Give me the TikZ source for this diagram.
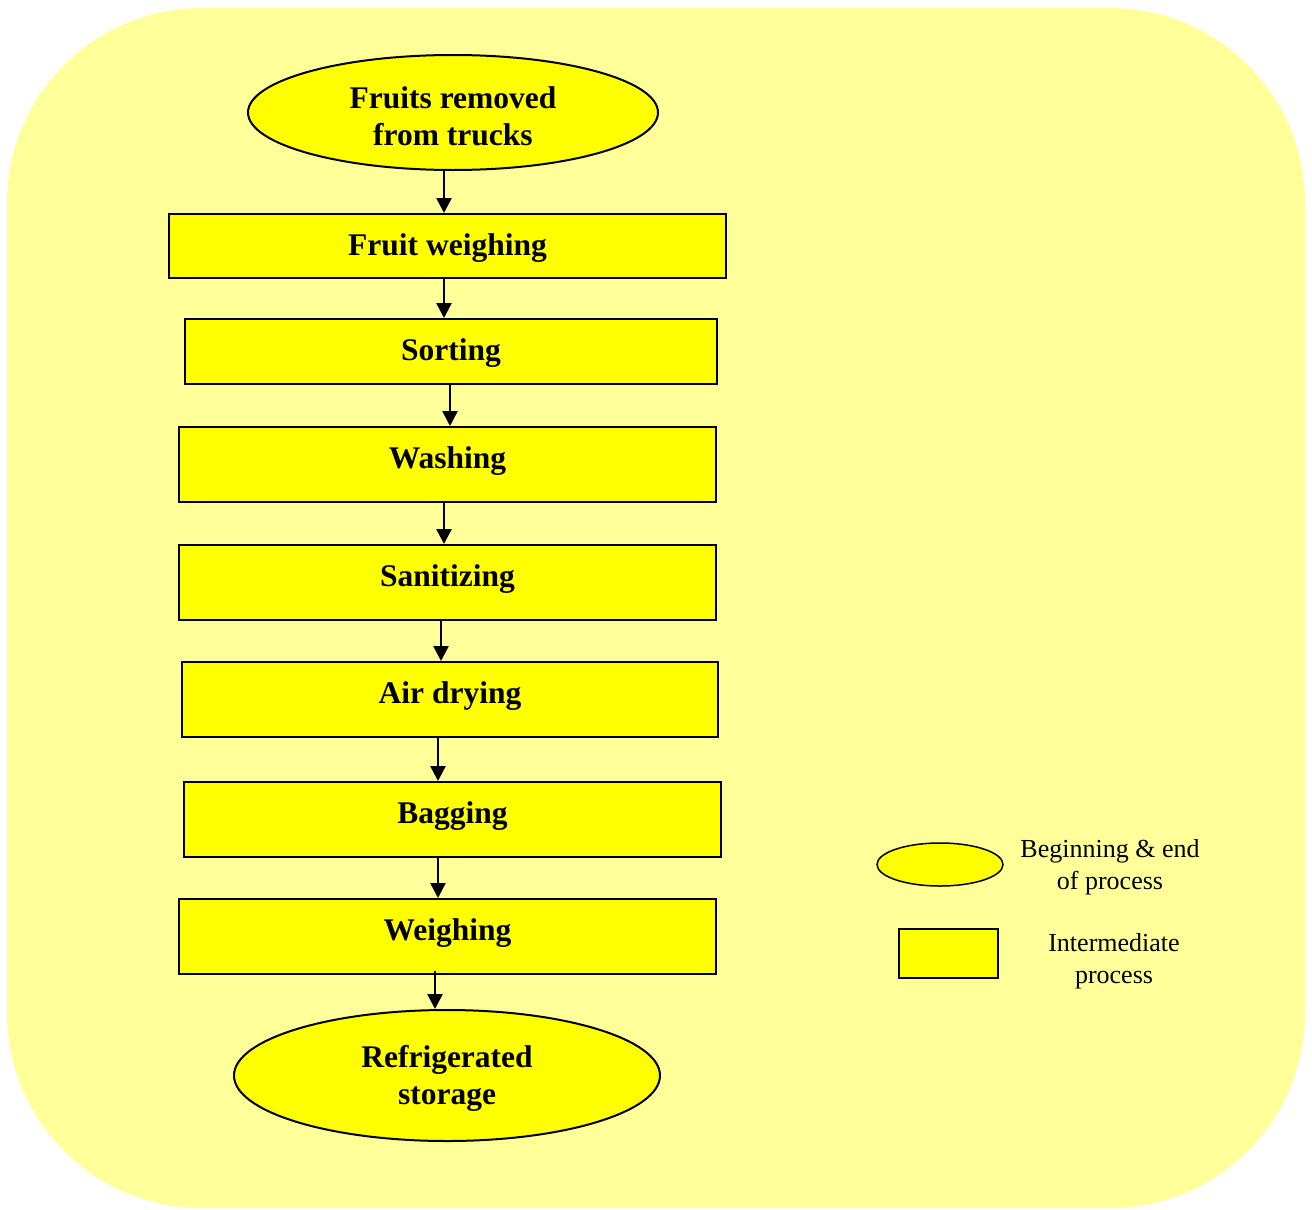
\documentclass[tikz,border=0pt]{standalone}
\usepackage{fontspec}
\setmainfont{Liberation Serif}
\usetikzlibrary{shapes.geometric,arrows.meta}
\definecolor{paleyellow}{HTML}{FFFF99}
\definecolor{boxyellow}{HTML}{FFFF00}
\tikzset{
  procbox/.style={draw=black, line width=2pt, fill=boxyellow, rectangle,
    inner xsep=0pt, inner ysep=0pt, text height=41pt,
    font=\fontsize{31.5}{37}\selectfont\bfseries},
  endpoint/.style={draw=black, line width=2pt, fill=boxyellow, ellipse,
    inner sep=0pt, align=center,
    font=\fontsize{31.5}{37}\selectfont\bfseries},
  flow/.style={line width=2.6pt, -{Triangle[length=15pt,width=15pt]}},
  legtext/.style={align=center, font=\fontsize{26}{31.5}\selectfont},
}
\begin{document}
\begin{tikzpicture}[x=1pt,y=-1pt]
  \useasboundingbox (0,0) rectangle (1312,1210);
  % background panel
  \fill[paleyellow, rounded corners=195pt] (7,8) rectangle (1305,1208);

  % flow chart
  \node[endpoint, minimum width=410pt, minimum height=115pt] (start) at (453,112.5)
    {\rule{0pt}{30pt}Fruits removed\\from trucks};
  \node[procbox, minimum width=557pt, text depth=23pt] (fw) at (447.5,246) {Fruit weighing};
  \node[procbox, minimum width=532pt, text depth=24pt] (sort) at (451,351.5) {Sorting};
  \node[procbox, minimum width=537pt, text depth=34pt] (wash) at (447.5,464.5) {Washing};
  \node[procbox, minimum width=537pt, text depth=34pt] (sani) at (447.5,582.5) {Sanitizing};
  \node[procbox, minimum width=536pt, text depth=34pt] (dry) at (450,699.5) {Air drying};
  \node[procbox, minimum width=537pt, text depth=34pt] (bag) at (452.5,819.5) {Bagging};
  \node[procbox, minimum width=537pt, text depth=34pt] (wgh) at (447.5,936.5) {Weighing};
  \node[endpoint, minimum width=426pt, minimum height=131pt] (store) at (447,1075.5)
    {\rule{0pt}{28pt}Refrigerated\\storage};

  % connectors
  \draw[flow] (start.south -| 444,0) -- (fw.north -| 444,0);
  \draw[flow] (fw.south -| 444,0) -- (sort.north -| 444,0);
  \draw[flow] (sort.south -| 450,0) -- (wash.north -| 450,0);
  \draw[flow] (wash.south -| 444,0) -- (sani.north -| 444,0);
  \draw[flow] (sani.south -| 441,0) -- (dry.north -| 441,0);
  \draw[flow] (dry.south -| 438,0) -- (bag.north -| 438,0);
  \draw[flow] (bag.south -| 438,0) -- (wgh.north -| 438,0);
  \draw[flow] ([yshift=4pt]wgh.south -| 435,0) -- (store.north -| 435,0);

  % legend
  \node[draw=black, line width=1.5pt, fill=boxyellow, ellipse, inner sep=0pt,
    minimum width=126pt, minimum height=43pt] (legend-oval) at (940,864.5) {};
  \node[draw=black, line width=1.5pt, fill=boxyellow, rectangle, inner sep=0pt,
    minimum width=99pt, minimum height=49pt] (legend-box) at (948.5,953.5) {};
  \node[legtext] (legend-oval-text) at (1110,867) {Beginning \& end\\of process};
  \node[legtext] (legend-box-text) at (1114,961) {Intermediate\\process};
\end{tikzpicture}
\end{document}
